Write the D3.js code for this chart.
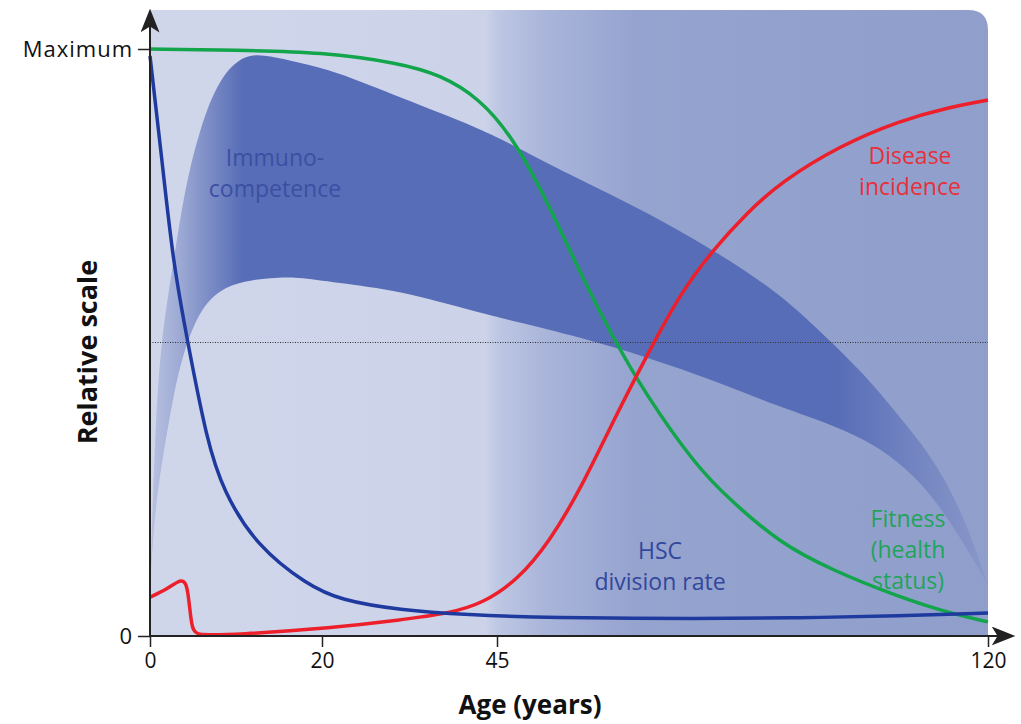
<!DOCTYPE html>
<html lang="en">
<head>
<meta charset="utf-8">
<title>Relative scale vs age</title>
<script src="https://d3js.org/d3.v7.min.js"></script>
<style>
  body { margin: 0; background: #fff; }
  svg { display: block; font-family: "Open Sans", "Noto Sans", sans-serif; }
</style>
</head>
<body>
<script>
// ---- data ----
const xTicks = [0, 20, 45, 120];
const yTicks = [0, 1];
const yTickLabels = ["0", "Maximum"];

// HSC division rate
const hscAges   = [0, 1.4, 2.7, 4.4, 6.6, 8.5, 12.4, 18.3, 22.6, 31.1, 40.7, 53, 76, 91, 106.6, 120];
const hscValues = [0.988, 0.81, 0.634, 0.499, 0.334, 0.247, 0.153, 0.087, 0.061, 0.044, 0.036, 0.031, 0.029, 0.031, 0.034, 0.039];

// Fitness (health status)
const fitAges   = [0, 10, 20, 31.1, 36.9, 42.4, 47.4, 52.6, 57.7, 62.7, 67.5, 75.5, 80.6, 88.2, 96.2, 106.5, 114.1, 120];
const fitValues = [1.0, 0.998, 0.995, 0.976, 0.956, 0.917, 0.850, 0.743, 0.618, 0.509, 0.415, 0.288, 0.232, 0.158, 0.112, 0.066, 0.039, 0.024];

// Disease incidence
const disAges   = [0, 2, 3.3, 3.9, 4.2, 4.4, 4.6, 4.8, 5.0, 5.5, 6.5, 9.7, 21.6, 31.1, 38.3, 43, 48.1, 53, 58, 63, 68, 73, 78, 83.2, 88.2, 97.3, 106.5, 114.1, 120];
const disValues = [0.066, 0.08, 0.094, 0.094, 0.088, 0.075, 0.05, 0.025, 0.01, 0.003, 0.002, 0.002, 0.014, 0.027, 0.039, 0.056, 0.095, 0.16, 0.255, 0.372, 0.48, 0.584, 0.658, 0.721, 0.772, 0.835, 0.878, 0.901, 0.913];

// Immunocompetence band
const immAges = [0, 0.5, 1.2, 2.7, 4, 5.8, 8, 11, 14, 17, 22, 31, 42.6, 47.4, 57.7, 67.9, 78, 88.2, 95, 101.2, 106, 111.2, 116, 120];
const immHigh = [0.08, 0.32, 0.5, 0.634, 0.76, 0.865, 0.95, 0.993, 0.988, 0.978, 0.962, 0.918, 0.865, 0.836, 0.777, 0.722, 0.658, 0.584, 0.512, 0.445, 0.38, 0.31, 0.215, 0.087];
const immLow  = [0.08, 0.2, 0.28, 0.41, 0.49, 0.555, 0.59, 0.605, 0.61, 0.612, 0.602, 0.589, 0.550, 0.537, 0.509, 0.475, 0.436, 0.390, 0.365, 0.335, 0.30, 0.245, 0.164, 0.087];

const midLine = 0.5;

// ---- layout ----
const w = 1021, h = 724;
const x = d3.scaleLinear().domain(xTicks).range([150, 322, 497, 988]);
const y = d3.scaleLinear().domain([0, 1]).range([636, 49]);

const svg = d3.select("body").append("svg")
  .attr("width", w)
  .attr("height", h);

const defs = svg.append("defs");

// background gradient
const bg = defs.append("linearGradient")
  .attr("id", "bgGrad")
  .attr("gradientUnits", "userSpaceOnUse")
  .attr("x1", x(0)).attr("x2", x(120)).attr("y1", 0).attr("y2", 0);
[[0, "#d0d6ea"], [0.40, "#ccd3e9"], [0.415, "#bec7e3"], [0.47, "#aab5da"], [0.58, "#95a3cf"], [1, "#909ecb"]]
  .forEach(s => bg.append("stop").attr("offset", s[0]).attr("stop-color", s[1]));

// band gradient (fade at both ends)
const bandGrad = defs.append("linearGradient")
  .attr("id", "bandGrad")
  .attr("gradientUnits", "userSpaceOnUse")
  .attr("x1", x(0)).attr("x2", x(120)).attr("y1", 0).attr("y2", 0);
[[0, 0.2], [0.03, 0.38], [0.07, 0.7], [0.11, 1], [0.82, 1], [0.92, 0.5], [1, 0.12]]
  .forEach(s => bandGrad.append("stop").attr("offset", s[0])
    .attr("stop-color", "#586db7").attr("stop-opacity", s[1]));

// arrow marker
defs.append("marker")
  .attr("id", "arrow")
  .attr("viewBox", "0 0 20 16")
  .attr("refX", 18).attr("refY", 8)
  .attr("markerWidth", 24).attr("markerHeight", 19)
  .attr("markerUnits", "userSpaceOnUse")
  .attr("orient", "auto")
  .append("path")
  .attr("d", "M0,0 L20,8 L0,16 L5,8 Z")
  .attr("fill", "#222");

// background panel, only top-right corner rounded
const bx0 = x(0), bx1 = x(120), by0 = 10, by1 = y(0), r = 20;
svg.append("path")
  .attr("d", `M${bx0},${by0} L${bx1 - r},${by0} Q${bx1},${by0} ${bx1},${by0 + r} L${bx1},${by1} L${bx0},${by1} Z`)
  .attr("fill", "url(#bgGrad)");

// immunocompetence band
const curve = d3.curveBasis;
const bandData = immAges.map((a, i) => ({ a: a, lo: immLow[i], hi: immHigh[i] }));
svg.append("path")
  .datum(bandData)
  .attr("fill", "url(#bandGrad)")
  .attr("d", d3.area()
    .curve(curve)
    .x(d => x(d.a))
    .y0(d => y(d.lo))
    .y1(d => y(d.hi)));

// dotted half line
svg.append("line")
  .attr("x1", x(0)).attr("x2", x(120))
  .attr("y1", y(midLine)).attr("y2", y(midLine))
  .attr("stroke", "#333")
  .attr("stroke-width", 1)
  .attr("stroke-dasharray", "1,1.5");

// series lines
const line = d3.line().curve(curve).x(d => x(d[0])).y(d => y(d[1]));
const series = [
  { ages: fitAges, vals: fitValues, color: "#12a54b" },
  { ages: disAges, vals: disValues, color: "#ec1f2a" },
  { ages: hscAges, vals: hscValues, color: "#1f3a9e" }
];
series.forEach(s => {
  svg.append("path")
    .datum(s.ages.map((a, i) => [a, s.vals[i]]))
    .attr("fill", "none")
    .attr("stroke", s.color)
    .attr("stroke-width", 3.5)
    .attr("stroke-linejoin", "round")
    .attr("d", line);
});

// axes
const xAxis = d3.axisBottom(x).tickValues(xTicks).tickSize(11).tickPadding(6).tickFormat(d3.format("d"));
const yAxis = d3.axisLeft(y).tickValues(yTicks).tickSize(12).tickPadding(5).tickFormat((d, i) => yTickLabels[i]);

const gx = svg.append("g").attr("transform", "translate(0," + y(0) + ")").call(xAxis);
const gy = svg.append("g").attr("transform", "translate(" + x(0) + ",0)").call(yAxis);
[gx, gy].forEach(g => {
  g.select(".domain").remove();
  g.selectAll(".tick line").attr("stroke", "#222").attr("stroke-width", 1.5);
  g.selectAll(".tick text").attr("fill", "#111").attr("font-size", 21)
    .attr("font-family", "'Open Sans', sans-serif");
});
gy.selectAll(".tick text").attr("dy", "0.35em").attr("font-size", 22).attr("letter-spacing", 1);

// axis lines with arrowheads
svg.append("line")
  .attr("x1", x(0)).attr("y1", y(0)).attr("x2", 1013).attr("y2", y(0))
  .attr("stroke", "#222").attr("stroke-width", 2).attr("marker-end", "url(#arrow)");
svg.append("line")
  .attr("x1", x(0)).attr("y1", y(0)).attr("x2", x(0)).attr("y2", 11)
  .attr("stroke", "#222").attr("stroke-width", 2).attr("marker-end", "url(#arrow)");

// axis titles
svg.append("text")
  .attr("x", 530).attr("y", 714)
  .attr("text-anchor", "middle")
  .attr("font-size", 26).attr("font-weight", "bold").attr("fill", "#111")
  .text("Age (years)");
svg.append("text")
  .attr("transform", "translate(97,352) rotate(-90)")
  .attr("text-anchor", "middle")
  .attr("font-size", 27).attr("font-weight", "bold").attr("fill", "#111")
  .text("Relative scale");

// series labels
const labels = [
  { lines: ["Immuno-", "competence"], cx: 275, top: 166, color: "#3b50a3" },
  { lines: ["Disease", "incidence"], cx: 910, top: 164, color: "#e8303a" },
  { lines: ["HSC", "division rate"], cx: 660, top: 559, color: "#33479b" },
  { lines: ["Fitness", "(health", "status)"], cx: 908, top: 527, color: "#1fa45a" }
];
labels.forEach(l => {
  const t = svg.append("text")
    .attr("text-anchor", "middle")
    .attr("font-size", 23)
    .attr("fill", l.color);
  l.lines.forEach((s, i) => {
    t.append("tspan").attr("x", l.cx).attr("y", l.top + i * 31).text(s);
  });
});
</script>
</body>
</html>
